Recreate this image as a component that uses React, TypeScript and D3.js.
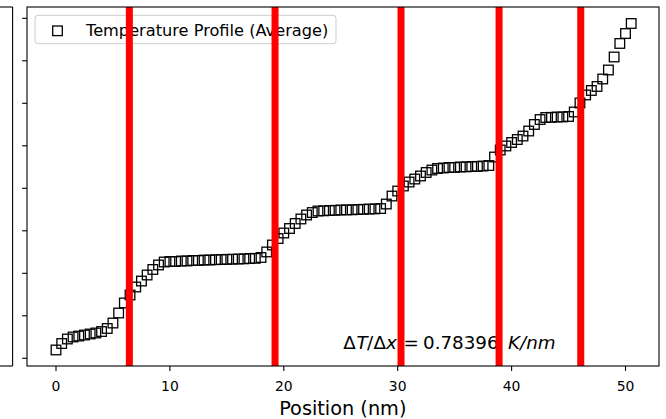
import React from 'react';
import * as d3 from 'd3';

const positions = [
  0, 0.5, 1, 1.5, 2, 2.5, 3, 3.5, 4, 4.5, 5, 5.5, 6, 6.5, 7, 7.5, 8, 8.5, 9, 9.5,
  10, 10.5, 11, 11.5, 12, 12.5, 13, 13.5, 14, 14.5, 15, 15.5, 16, 16.5, 17, 17.5, 18, 18.5, 19, 19.5,
  20, 20.5, 21, 21.5, 22, 22.5, 23, 23.5, 24, 24.5, 25, 25.5, 26, 26.5, 27, 27.5, 28, 28.5, 29, 29.5,
  30, 30.5, 31, 31.5, 32, 32.5, 33, 33.5, 34, 34.5, 35, 35.5, 36, 36.5, 37, 37.5, 38, 38.5, 39, 39.5,
  40, 40.5, 41, 41.5, 42, 42.5, 43, 43.5, 44, 44.5, 45, 45.5, 46, 46.5, 47, 47.5, 48, 48.5, 49, 49.5,
  50, 50.5,
];

const temperatures = [
  280.98, 281.74, 282.27, 282.51, 282.62, 282.74, 282.86, 282.98, 283.15, 283.51,
  284.15, 285.33, 286.51, 287.45, 288.39, 289.09, 289.8, 290.45, 290.98, 291.33,
  291.39, 291.39, 291.45, 291.45, 291.51, 291.51, 291.56, 291.56, 291.6, 291.62,
  291.64, 291.66, 291.68, 291.7, 291.74, 291.76, 291.86, 292.51, 293.33, 294.09,
  294.74, 295.27, 295.86, 296.39, 296.86, 297.15, 297.33, 297.35, 297.39, 297.41,
  297.45, 297.46, 297.47, 297.51, 297.53, 297.56, 297.58, 297.62, 298.15, 299.09,
  299.68, 300.27, 300.74, 301.09, 301.45, 301.86, 302.15, 302.33, 302.39, 302.45,
  302.46, 302.51, 302.52, 302.56, 302.58, 302.62, 302.68, 303.68, 304.51, 304.98,
  305.39, 305.74, 306.15, 306.74, 307.51, 308.09, 308.33, 308.35, 308.39, 308.4,
  308.45, 308.98, 310.04, 310.98, 311.51, 311.98, 312.86, 313.92, 315.45, 317.04,
  318.21, 319.39,
];

const interfacePositions = [6.44, 19.23, 30.29, 38.9, 46.07];
const xTicks = [0, 10, 20, 30, 40, 50];
const yTicks = [280, 285, 290, 295, 300, 305, 310, 315, 320];
const legendLabel = 'Temperature Profile (Average)';
const xLabel = 'Position (nm)';
const slopeValue = '0.78396';

const FONT = '"DejaVu Sans", sans-serif';

export default function App() {
  const W = 666;
  const H = 419;
  const left = 27;
  const right = 659;
  const top = 7;
  const bottom = 366;

  const x = d3.scaleLinear().domain([-2.546, 52.94]).range([left, right]);
  const y = d3.scaleLinear().domain([279.094, 321.33]).range([bottom, top]);

  const ms = 9.6;
  const tickLen = 4.9;
  const ty = 348.5;

  return (
    <svg
      width={W}
      height={H}
      style={{ position: 'absolute', left: 0, top: 0, background: '#fff' }}
      fontFamily={FONT}
    >
      <rect x={0} y={0} width={W} height={H} fill="#fff" />
      {/* partial neighbouring axes on the left */}
      <g stroke="#000" strokeWidth={1.1} fill="none">
        <line x1={0} x2={12.6} y1={top} y2={top} />
        <line x1={0} x2={12.6} y1={bottom} y2={bottom} />
        <line x1={12.6} x2={12.6} y1={top} y2={bottom} />
      </g>

      {/* markers */}
      <g fill="none" stroke="#000" strokeWidth={1.3}>
        {positions.map((p, i) => (
          <rect
            key={i}
            x={x(p) - ms / 2}
            y={y(temperatures[i]) - ms / 2}
            width={ms}
            height={ms}
          />
        ))}
      </g>

      {/* slope annotation */}
      <g fontSize={18.3} fill="#000">
        <text x={343.3} y={ty}>Δ</text>
        <text x={356.5} y={ty} fontStyle="italic">T</text>
        <text x={367} y={ty}>/</text>
        <text x={373.5} y={ty}>Δ</text>
        <text x={386} y={ty} fontStyle="italic">x</text>
        <text x={403.5} y={ty}>=</text>
        <text x={423} y={ty}>{slopeValue}</text>
        <text x={508} y={ty} fontStyle="italic">K/nm</text>
      </g>

      {/* legend */}
      <g>
        <rect x={35} y={15.3} width={301} height={28.4} rx={3} fill="#fff" fillOpacity={0.8} stroke="#cccccc" strokeWidth={1} />
        <rect x={57.5 - ms / 2} y={30.8 - ms / 2} width={ms} height={ms} fill="none" stroke="#000" strokeWidth={1.3} />
        <text x={86} y={35.5} fontSize={16.2} fill="#000">{legendLabel}</text>
      </g>

      {/* interface lines */}
      <g stroke="#ff0000" strokeWidth={7}>
        {interfacePositions.map((p, i) => (
          <line key={i} x1={x(p)} x2={x(p)} y1={top} y2={bottom} />
        ))}
      </g>

      {/* axes frame */}
      <rect x={left} y={top} width={right - left} height={bottom - top} fill="none" stroke="#000" strokeWidth={1.1} />

      {/* y ticks */}
      <g stroke="#000" strokeWidth={1.1}>
        {yTicks.map((t) => (
          <line key={t} x1={left - tickLen} x2={left} y1={y(t)} y2={y(t)} />
        ))}
      </g>

      {/* x ticks */}
      <g>
        {xTicks.map((t) => (
          <g key={t}>
            <line x1={x(t)} x2={x(t)} y1={bottom} y2={bottom + tickLen} stroke="#000" strokeWidth={1.1} />
            <text x={x(t)} y={390.7} fontSize={13.9} textAnchor="middle" fill="#000">{t}</text>
          </g>
        ))}
      </g>

      <text x={342.8} y={415} fontSize={19.3} textAnchor="middle" fill="#000">{xLabel}</text>
    </svg>
  );
}
